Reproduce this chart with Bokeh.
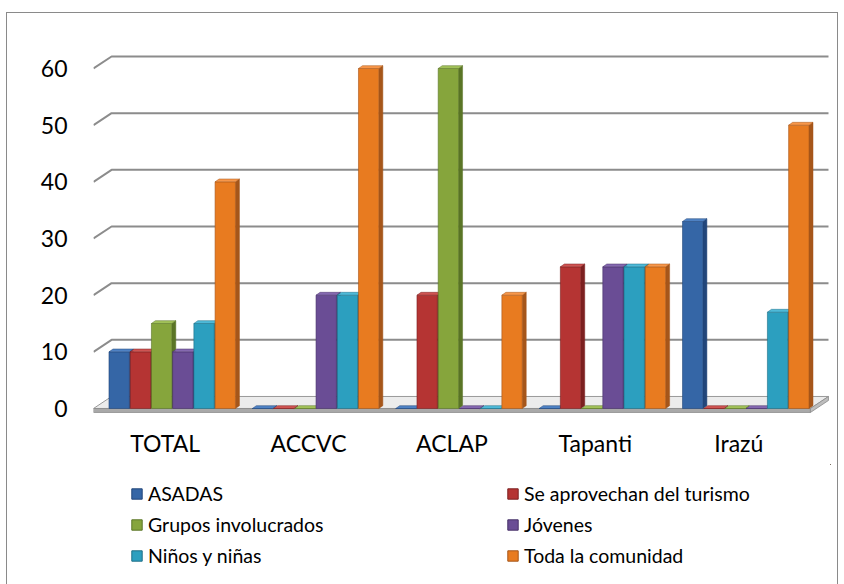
from bokeh.plotting import figure
from bokeh.layouts import column
from bokeh.models import Range1d, FixedTicker, Legend, LegendItem, ColumnDataSource
from bokeh.embed import file_html
from bokeh.resources import INLINE

# ---------------- data ----------------
categories = ["TOTAL", "ACCVC", "ACLAP", "Tapanti", "Irazú"]
series_names = ["ASADAS", "Se aprovechan del turismo", "Grupos involucrados",
                "Jóvenes", "Niños y niñas", "Toda la comunidad"]
asadas = [10, 0, 0, 0, 33]
turismo = [10, 0, 20, 25, 0]
grupos = [15, 0, 60, 0, 0]
jovenes = [10, 20, 0, 25, 0]
ninos = [15, 20, 0, 25, 17]
toda = [40, 60, 20, 25, 50]
y_ticks = [0, 10, 20, 30, 40, 50, 60]

series_values = [asadas, turismo, grupos, jovenes, ninos, toda]

# ---------------- style ----------------
front_colors = ["#3566a6", "#b53433", "#86a53c", "#6a4d95", "#2c9fbf", "#e87b20"]
side_colors = ["#22467a", "#7c2020", "#5a7526", "#473168", "#1d6f87", "#a6561a"]
top_colors = ["#4f82c4", "#cf5452", "#a2c25a", "#8569b0", "#4fbad8", "#f7974a"]
FONT = "Lato"

n_cat = len(categories)
x0, x1 = -0.5, n_cat - 0.5
dx, dy = 0.126, 2.12          # 3D back-wall offset (data units)
pitch = 0.148                  # spacing between bars in a group
bar_w = 0.142
group_shift = 0.049
sd, se = 0.028, 0.5            # bar depth offsets

W = 830
H_MAIN = 451
H_LEG = 121
BL, BR = 86, 7

p = figure(width=W, height=H_MAIN,
           x_range=Range1d(x0, x1 + 0.14), y_range=Range1d(-1.06, 64.94),
           output_backend="svg", toolbar_location=None,
           min_border_left=BL, min_border_right=BR, min_border_top=27,
           min_border_bottom=50)
p.grid.visible = False
p.outline_line_color = None
p.background_fill_color = None
p.border_fill_color = None

# axes
p.yaxis.ticker = FixedTicker(ticks=y_ticks)
p.yaxis.axis_line_color = None
p.yaxis.major_tick_line_color = None
p.yaxis.minor_tick_line_color = None
p.yaxis.major_label_standoff = 20
p.yaxis.major_label_text_font = FONT
p.yaxis.major_label_text_font_size = "23px"
p.yaxis.major_label_text_color = "black"

p.xaxis.ticker = FixedTicker(ticks=list(range(n_cat)))
p.xaxis.major_label_overrides = {i: c for i, c in enumerate(categories)}
p.xaxis.axis_line_color = None
p.xaxis.major_tick_line_color = None
p.xaxis.minor_tick_line_color = None
p.xaxis.major_label_standoff = 8
p.xaxis.major_label_text_font = FONT
p.xaxis.major_label_text_font_size = "23px"
p.xaxis.major_label_text_color = "black"

# back wall gridlines with 3D diagonal
gx, gy = [], []
for v in y_ticks[1:]:
    gx.append([x0, x0 + dx, x1 + dx])
    gy.append([v, v + dy, v + dy])
p.multi_line(gx, gy, line_color="#8c8c8c", line_width=2)

# floor
th = 0.7
p.patch([x0, x1, x1 + dx, x0 + dx], [0, 0, dy, dy],
        fill_color="#ececec", line_color="#9a9a9a", line_width=1)
p.quad(left=[x0], right=[x1], bottom=[-th], top=[0],
       fill_color="#a9a9a9", line_color="#8c8c8c", line_width=0.8)
p.patch([x1, x1 + dx, x1 + dx, x1], [-th, dy - th, dy, 0],
        fill_color="#bdbdbd", line_color="#8c8c8c", line_width=0.8)

# legend figure (same borders so its frame lines up with the main frame)
q = figure(width=W, height=H_LEG, x_range=Range1d(0, 1), y_range=Range1d(0, 1),
           output_backend="svg", toolbar_location=None,
           x_axis_type=None, y_axis_type=None,
           min_border_left=BL, min_border_right=BR, min_border_top=0,
           min_border_bottom=0)
q.grid.visible = False
q.outline_line_color = None
q.border_fill_color = None
q.background_fill_color = None

# bars
items = []
for j, (name, vals) in enumerate(zip(series_names, series_values)):
    xs = [c + group_shift + (j - 2.5) * pitch for c in range(n_cat)]
    side_xs = [[x + bar_w / 2, x + bar_w / 2 + sd, x + bar_w / 2 + sd, x + bar_w / 2]
               for x in xs]
    side_ys = [[0, se, v + se, v] for v in vals]
    p.patches(side_xs, side_ys, fill_color=side_colors[j], line_color=side_colors[j],
              line_width=0.5)
    src = ColumnDataSource(dict(x=xs, top=vals))
    p.vbar(x="x", top="top", bottom=0, width=bar_w, source=src,
           fill_color=front_colors[j], line_color=side_colors[j], line_width=0.6)
    top_xs = [[x - bar_w / 2, x + bar_w / 2, x + bar_w / 2 + sd, x - bar_w / 2 + sd]
              for x in xs]
    top_ys = [[v, v, v + se, v + se] for v in vals]
    p.patches(top_xs, top_ys, fill_color=top_colors[j], line_color=side_colors[j],
              line_width=0.5)
    # legend proxy: same style, its single point lies outside the legend view
    lsrc = ColumnDataSource(dict(x=[5.0], top=[3.0], bottom=[2.0]))
    lr = q.vbar(x="x", top="top", bottom="bottom", width=0.1, source=lsrc,
                fill_color=front_colors[j], line_color=side_colors[j], line_width=1)
    items.append(LegendItem(label=name, renderers=[lr]))

legend = Legend(items=items, location=(37, 18), orientation="horizontal", ncols=2,
                glyph_width=13, glyph_height=13, label_standoff=5,
                label_width=350, label_height=22, spacing=8,
                padding=0, margin=0, border_line_color=None,
                background_fill_alpha=0,
                label_text_font=FONT, label_text_font_size="19.5px",
                label_text_color="black")
q.add_layout(legend, "center")

layout = column(p, q, spacing=0,
                styles={"border": "1px solid #8a8a8a", "margin-left": "6px",
                        "margin-top": "12px", "background-color": "white"})

open("out.html", "w").write(file_html(layout, INLINE))
